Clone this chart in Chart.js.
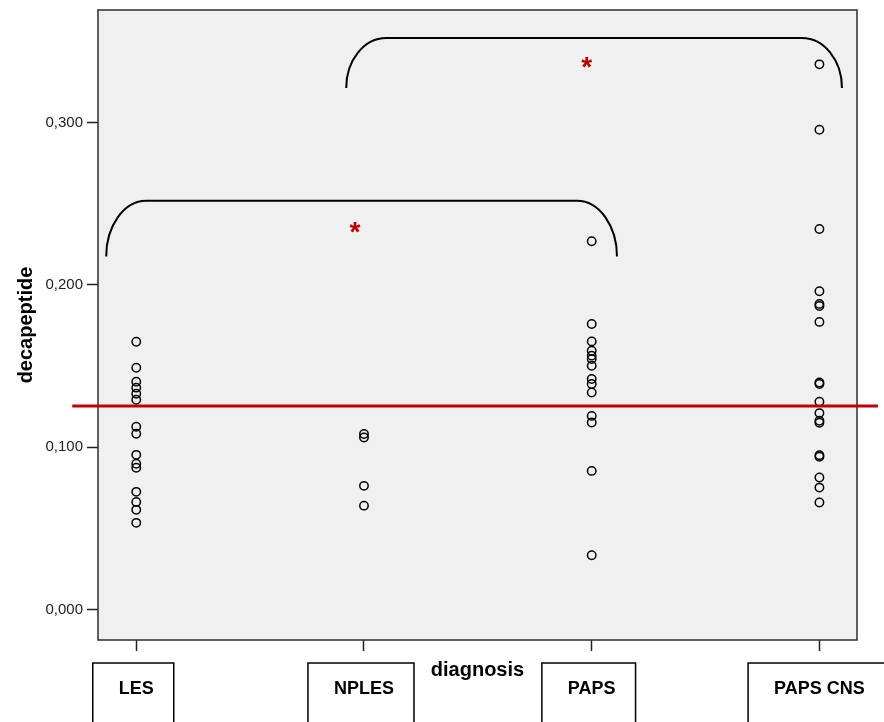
<!DOCTYPE html>
<html>
<head>
<meta charset="utf-8">
<script src="https://cdn.jsdelivr.net/npm/chart.js@4.4.1/dist/chart.umd.min.js"></script>
<style>
  html, body { margin: 0; padding: 0; background: #fff; }
  #wrap { width: 884px; height: 722px; }
</style>
</head>
<body>
<div id="wrap"><canvas id="myChart" width="884" height="722"></canvas></div>
<script>
var ctx = document.getElementById("myChart").getContext("2d");

const CATEGORIES = ["LES", "NPLES", "PAPS", "PAPS CNS"];
const LES = [0.165, 0.149, 0.1404, 0.1367, 0.1329, 0.1292, 0.1126, 0.1083, 0.0953, 0.0898, 0.0873, 0.0725, 0.0663, 0.0614, 0.0534];
const NPLES = [0.1081, 0.106, 0.0762, 0.064];
const PAPS = [0.2269, 0.1759, 0.1652, 0.1595, 0.1564, 0.1543, 0.1502, 0.142, 0.1389, 0.1337, 0.1193, 0.1152, 0.0854, 0.0334];
const PAPS_CNS = [0.3359, 0.2956, 0.2345, 0.1961, 0.1883, 0.187, 0.1772, 0.1399, 0.1389, 0.128, 0.121, 0.1163, 0.1151, 0.0951, 0.0941, 0.0813, 0.0751, 0.0659];
const Y_TICKS = [0, 0.1, 0.2, 0.3];
const REF_LINE = 0.1254;
const REF_LINE_X = [-0.281, 3.257];

// significance brackets: from / to on x, top and leg end on y
const BRACKET_FROM = [-0.132, 0.922];
const BRACKET_TO = [2.111, 3.099];
const BRACKET_TOP = [0.2518, 0.3521];
const BRACKET_END = [0.2175, 0.3214];
const STAR_X = [0.96, 1.978];
const STAR_Y = [0.2345, 0.3359];

const RED = "#c00000";
const LABEL_FONT = "bold 18px 'Liberation Sans', Arial, sans-serif";

const groups = [LES, NPLES, PAPS, PAPS_CNS];

const decor = {
  id: "decor",
  beforeDatasetsDraw(chart) {
    const { ctx, chartArea: a } = chart;
    ctx.save();
    ctx.fillStyle = "#f0f0f0";
    ctx.fillRect(a.left, a.top, a.right - a.left, a.bottom - a.top);
    ctx.strokeStyle = "#3a3a3a";
    ctx.lineWidth = 1.6;
    ctx.strokeRect(a.left, a.top, a.right - a.left, a.bottom - a.top);
    ctx.restore();
  },
  afterDraw(chart) {
    const { ctx } = chart;
    const x = chart.scales.x, y = chart.scales.y;
    ctx.save();

    // brackets
    ctx.strokeStyle = "#000";
    ctx.lineWidth = 2;
    const rx = 40;
    BRACKET_FROM.forEach((from, i) => {
      const xl = x.getPixelForValue(from);
      const xr = x.getPixelForValue(BRACKET_TO[i]);
      const yt = y.getPixelForValue(BRACKET_TOP[i]);
      const ye = y.getPixelForValue(BRACKET_END[i]);
      ctx.beginPath();
      ctx.moveTo(xl, ye);
      ctx.ellipse(xl + rx, ye, rx, ye - yt, 0, Math.PI, 1.5 * Math.PI);
      ctx.lineTo(xr - rx, yt);
      ctx.ellipse(xr - rx, ye, rx, ye - yt, 0, 1.5 * Math.PI, 2 * Math.PI);
      ctx.stroke();
    });

    // asterisks
    ctx.fillStyle = RED;
    ctx.font = "bold 28px 'Liberation Sans', Arial, sans-serif";
    ctx.textAlign = "center";
    ctx.textBaseline = "alphabetic";
    STAR_X.forEach((sx, i) => {
      ctx.fillText("*", x.getPixelForValue(sx), y.getPixelForValue(STAR_Y[i]) + 12);
    });

    // boxes round the category labels
    ctx.font = LABEL_FONT;
    ctx.strokeStyle = "#000";
    ctx.lineWidth = 1.5;
    const top = x.top + 23;
    CATEGORIES.forEach((cat, i) => {
      const cx = x.getPixelForValue(i) - 3;
      const w = ctx.measureText(cat).width + 46;
      ctx.beginPath();
      ctx.moveTo(cx - w / 2, chart.height + 5);
      ctx.lineTo(cx - w / 2, top);
      ctx.lineTo(cx + w / 2, top);
      ctx.lineTo(cx + w / 2, chart.height + 5);
      ctx.stroke();
    });
    ctx.restore();
  },
};

function drawChart() {
  const datasets = groups.map((vals, i) => ({
    label: CATEGORIES[i],
    data: vals.map((v) => ({ x: i, y: v })),
    pointStyle: "circle",
    pointRadius: 4.2,
    pointBorderWidth: 1.5,
    pointBorderColor: "#000",
    pointBackgroundColor: "rgba(0,0,0,0)",
    showLine: false,
    order: 1,
  }));
  datasets.push({
    label: "reference",
    type: "line",
    data: REF_LINE_X.map((v) => ({ x: v, y: REF_LINE })),
    borderColor: RED,
    borderWidth: 3,
    pointRadius: 0,
    clip: false,
    order: 0,
  });

  new Chart(ctx, {
    type: "scatter",
    data: { datasets },
    plugins: [decor],
    options: {
      responsive: false,
      animation: false,
      layout: { padding: { left: 0, top: 10, right: 27, bottom: 0 } },
      plugins: { legend: { display: false }, tooltip: { enabled: false } },
      scales: {
        x: {
          type: "linear",
          min: -0.168,
          max: 3.165,
          afterBuildTicks(scale) {
            scale.ticks = CATEGORIES.map((c, i) => ({ value: i }));
          },
          afterFit(scale) {
            scale.height = 82;
            scale.paddingLeft = 0;
            scale.paddingRight = 0;
          },
          grid: { drawOnChartArea: false, tickLength: 11, tickColor: "#222", tickWidth: 1.5 },
          border: { display: false },
          ticks: {
            padding: 27,
            color: "#000",
            font: { family: "'Liberation Sans', Arial", size: 18, weight: "bold" },
            callback: (v) => CATEGORIES[v],
          },
          title: {
            display: true,
            text: "diagnosis",
            color: "#000",
            font: { family: "'Liberation Sans', Arial", size: 20, weight: "bold" },
            padding: { top: 0, bottom: 40 },
          },
        },
        y: {
          min: -0.0188,
          max: 0.3694,
          afterBuildTicks(scale) {
            scale.ticks = Y_TICKS.map((v) => ({ value: v }));
          },
          afterFit(scale) {
            scale.width = 98;
            scale.paddingTop = 0;
            scale.paddingBottom = 0;
          },
          grid: { drawOnChartArea: false, tickLength: 11, tickColor: "#222", tickWidth: 1.5 },
          border: { display: false },
          ticks: {
            padding: 4,
            color: "#222",
            font: { family: "'Liberation Sans', Arial", size: 15 },
            callback: (v) => v.toFixed(3).replace(".", ","),
          },
          title: {
            display: true,
            text: "decapeptide",
            color: "#000",
            font: { family: "'Liberation Sans', Arial", size: 20, weight: "bold" },
            padding: { top: 14, bottom: 0 },
          },
        },
      },
    },
  });
}
drawChart();
</script>
</body>
</html>
